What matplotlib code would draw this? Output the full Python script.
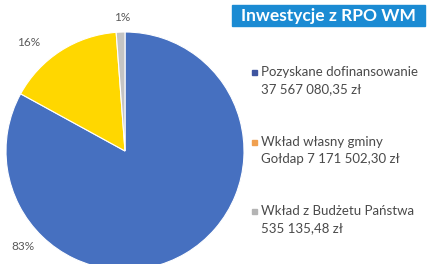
import matplotlib.pyplot as plt
from matplotlib.patches import Rectangle

labels = ['Pozyskane dofinansowanie\n37 567 080,35 zł',
          'Wkład własny gminy\nGołdap 7 171 502,30 zł',
          'Wkład z Budżetu Państwa\n535 135,48 zł']
values = [37567080.35, 7171502.30, 535135.48]
pie_colors = ['#4670c0', '#ffd700', '#c4c4c4']
marker_colors = ['#3f55a0', '#f0a050', '#b4b4b4']

plt.rcParams['font.family'] = ['Lato', 'DejaVu Sans']

W, H = 431, 264
fig = plt.figure(figsize=(W / 100, H / 100), dpi=100)

# pie: center (125,151) px, radius 119 px
cx, cy, r = 125, 151, 119
ax = fig.add_axes([(cx - r) / W, (H - cy - r) / H, 2 * r / W, 2 * r / H])
ax.pie(values, colors=pie_colors, startangle=90, counterclock=False,
       wedgeprops=dict(edgecolor='white', linewidth=0.8))
ax.set_xlim(-1, 1)
ax.set_ylim(-1, 1)
ax.set_aspect('auto')
ax.axis('off')

total = sum(values)
pcts = ['%d%%' % round(v / total * 100) for v in values]
pct_pos = [(-0.86, -0.8), (-0.81, 0.91), (-0.02, 1.12)]
for p, (x, y) in zip(pcts, pct_pos):
    ax.text(x, y, p, ha='center', va='center', fontsize=8.5, color='#5a5a5a',
            clip_on=False)

# title box
fig.patches.append(Rectangle((232 / W, 1 - 26 / H), 193 / W, 21 / H,
                             transform=fig.transFigure, color='#1b8bd3'))
fig.text(328 / W, 1 - 15.5 / H, 'Inwestycje z RPO WM', ha='center', va='center',
         color='white', fontsize=12.5, fontweight='bold')

# legend
ys = [72, 142, 211]
for lab, c, y in zip(labels, marker_colors, ys):
    fig.patches.append(Rectangle((252 / W, 1 - (y + 2.5) / H), 5 / W, 5 / H,
                                 transform=fig.transFigure, color=c))
    line1, line2 = lab.split('\n')
    fig.text(261 / W, 1 - y / H, line1, ha='left', va='center',
             fontsize=9.5, color='#4a4a4a')
    fig.text(261 / W, 1 - (y + 17) / H, line2, ha='left', va='center',
             fontsize=9.5, color='#4a4a4a')

fig.savefig('out.png', dpi=100)
